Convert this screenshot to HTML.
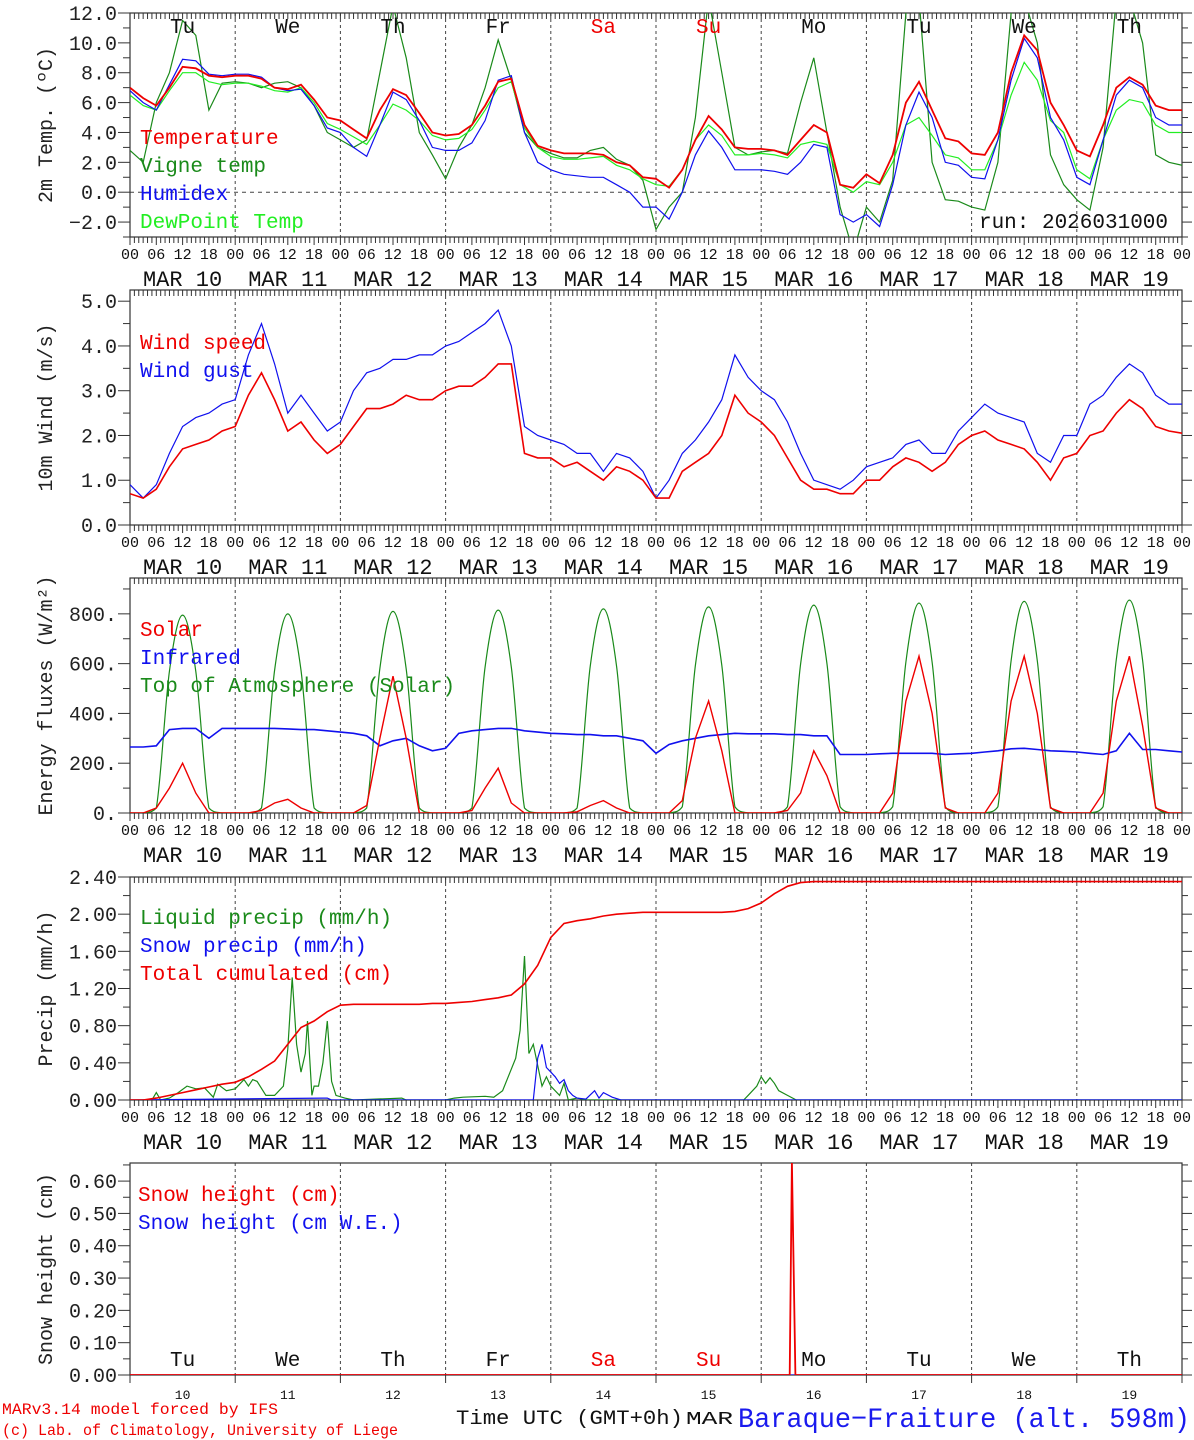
<!DOCTYPE html>
<html><head><meta charset="utf-8"><style>
body{margin:0;background:#fff;}
svg{display:block;font-family:"Liberation Mono",monospace;}
</style></head><body>
<svg id="chart" width="1194" height="1440" viewBox="0 0 1194 1440" xmlns="http://www.w3.org/2000/svg">
  <text x="1168" y="228" text-anchor="end" font-size="21" fill="#111">run: 2026031000</text>
  <text x="2" y="1414" font-size="16" fill="#ee0000" textLength="276" lengthAdjust="spacingAndGlyphs">MARv3.14 model forced by IFS</text>
  <text x="2" y="1435" font-size="16" fill="#ee0000" textLength="396" lengthAdjust="spacingAndGlyphs">(c) Lab. of Climatology, University of Liege</text>
  <text x="456" y="1424" font-size="20" fill="#111" textLength="227" lengthAdjust="spacingAndGlyphs">Time UTC (GMT+0h)</text>
  <text x="686" y="1424" font-size="18" fill="#111" textLength="47" lengthAdjust="spacingAndGlyphs">MAR</text>
  <text x="738" y="1427" font-size="28" fill="#1a1aee" textLength="452" lengthAdjust="spacingAndGlyphs">Baraque−Fraiture (alt. 598m)</text>
</svg>
<script>
// ---------- DATA ----------
const dayNames = ["Tu","We","Th","Fr","Sa","Su","Mo","Tu","We","Th"];
const dayNums = ["10","11","12","13","14","15","16","17","18","19"];
const hourLabels = ["00","06","12","18"];
// 3-hourly series (81 points from MAR 10 00 UTC)
const tempVals = [7,6.3,5.8,7,8.4,8.3,7.8,7.7, 7.8,7.8,7.6,7.0,6.9,7.2,6.2,5.0, 4.8,4.2,3.6,5.5,6.9,6.5,5.3,4.0, 3.8,3.9,4.5,5.8,7.4,7.6,4.5,3.1, 2.8,2.6,2.6,2.6,2.5,2.0,1.8,1.0, 0.9,0.3,1.5,3.5,5.1,4.2,3.0,2.9, 2.9,2.8,2.5,3.5,4.5,4.0,0.5,0.3, 1.2,0.6,2.5,6.0,7.4,5.5,3.6,3.4, 2.6,2.5,4.0,8.0,10.5,9.5,6.0,4.5, 2.8,2.4,4.5,7.0,7.7,7.2,5.8,5.5, 5.5];
const vigneVals = [2.8,2.0,6.0,8.0,11.5,10.5,5.5,7.3, 7.4,7.3,7.0,7.3,7.4,7.0,5.8,4.0, 3.5,3.0,3.5,8.0,12.5,9.0,4.0,2.5, 0.9,3.0,4.5,7.0,10.2,7.5,4.0,3.0, 2.6,2.3,2.3,2.8,3.0,2.2,1.8,0.8, -2.5,-1.0,0.0,5.0,13,8.0,3.0,2.5, 2.7,2.8,2.6,6.0,9.0,4.0,-1.0,-4, -1.0,-2.0,0.8,12,13,2.0,-0.5,-0.6, -1.0,-1.2,2.0,12,13,10,2.5,0.5, -0.5,-1.2,3.0,13,13,10,2.5,2.0, 1.8];
const humidexVals = [6.8,6.0,5.5,7.2,8.9,8.8,7.9,7.8, 7.9,7.9,7.7,7.0,6.8,6.9,5.8,4.3, 4.0,3.0,2.4,4.5,6.7,6.2,4.8,3.0, 2.8,2.8,3.3,4.8,7.5,7.8,4.0,2.0, 1.5,1.2,1.1,1.0,1.0,0.5,0.0,-1.0, -1.0,-1.8,0.0,2.5,4.1,3.0,1.5,1.5, 1.5,1.4,1.2,2.0,3.2,3.0,-1.5,-2.0, -1.5,-2.3,0.5,4.5,6.7,5.0,2.0,1.8, 1.0,0.9,3.5,7.5,10.3,9.0,5.0,3.5, 1.0,0.5,3.5,6.5,7.5,7.0,5.0,4.5, 4.5];
const dewVals = [6.5,5.8,5.5,6.8,8.0,8.0,7.4,7.2, 7.3,7.3,7.1,6.8,6.7,7.0,6.0,4.6, 4.2,3.7,3.2,4.5,5.9,5.5,4.8,3.8, 3.5,3.6,4.2,5.5,7.0,7.4,4.3,3.0, 2.4,2.2,2.2,2.3,2.4,1.8,1.5,0.9, 0.5,0.4,1.5,3.5,4.5,3.8,2.5,2.5, 2.6,2.5,2.3,3.2,3.4,3.2,0.5,0.0, 0.7,0.5,2.0,4.5,5.0,3.8,2.5,2.3, 1.5,1.5,3.5,6.5,8.7,7.5,4.8,4.0, 1.5,0.9,3.5,5.5,6.2,6.0,4.5,4.0, 4.0];
const windVals = [0.7,0.6,0.8,1.3,1.7,1.8,1.9,2.1, 2.2,2.9,3.4,2.8,2.1,2.3,1.9,1.6, 1.8,2.2,2.6,2.6,2.7,2.9,2.8,2.8, 3.0,3.1,3.1,3.3,3.6,3.6,1.6,1.5, 1.5,1.3,1.4,1.2,1.0,1.3,1.2,1.0, 0.6,0.6,1.2,1.4,1.6,2.0,2.9,2.5, 2.3,2.0,1.5,1.0,0.8,0.8,0.7,0.7, 1.0,1.0,1.3,1.5,1.4,1.2,1.4,1.8, 2.0,2.1,1.9,1.8,1.7,1.4,1.0,1.5, 1.6,2.0,2.1,2.5,2.8,2.6,2.2,2.1, 2.05];
const gustVals = [0.9,0.6,0.9,1.6,2.2,2.4,2.5,2.7, 2.8,3.8,4.5,3.6,2.5,2.9,2.5,2.1, 2.3,3.0,3.4,3.5,3.7,3.7,3.8,3.8, 4.0,4.1,4.3,4.5,4.8,4.0,2.2,2.0, 1.9,1.8,1.6,1.6,1.2,1.6,1.5,1.2, 0.6,1.0,1.6,1.9,2.3,2.8,3.8,3.3, 3.0,2.8,2.3,1.6,1.0,0.9,0.8,1.0, 1.3,1.4,1.5,1.8,1.9,1.6,1.6,2.1, 2.4,2.7,2.5,2.4,2.3,1.6,1.4,2.0, 2.0,2.7,2.9,3.3,3.6,3.4,2.9,2.7, 2.7];
const solarVals = [0,0,20,100,200,80,0,0, 0,0,10,40,55,20,0,0, 0,0,30,300,550,300,0,0, 0,0,10,100,180,40,0,0, 0,0,5,30,50,20,0,0, 0,0,50,300,450,250,0,0, 0,0,10,80,250,150,0,0, 0,0,80,450,630,400,20,0, 0,0,80,450,630,400,20,0, 0,0,80,450,630,350,20,0, 0];
const irVals = [265,265,270,335,340,340,300,340, 340,340,340,340,338,335,335,330, 325,320,310,270,290,300,270,250, 260,320,330,335,340,340,330,325, 320,318,315,315,310,310,300,290, 240,275,290,300,310,315,320,318, 318,318,315,315,310,310,235,235, 235,238,240,240,240,240,235,238, 240,245,250,258,260,255,250,248, 245,240,235,250,320,255,255,250, 245];
const toaVals = [0,0,20,570,795,570,20,0, 0,0,20,575,800,575,20,0, 0,0,20,580,810,580,20,0, 0,0,20,585,815,585,20,0, 0,0,20,590,820,590,20,0, 0,0,25,595,828,595,25,0, 0,0,25,600,835,600,25,0, 0,0,25,605,843,605,25,0, 0,0,25,610,850,610,25,0, 0,0,25,615,855,615,25,0, 0];
const cumVals = [0,0,0.02,0.05,0.08,0.11,0.14,0.17, 0.19,0.25,0.33,0.42,0.6,0.78,0.85,0.95, 1.02,1.03,1.03,1.03,1.03,1.03,1.03,1.04, 1.04,1.05,1.06,1.08,1.1,1.13,1.25,1.45, 1.75,1.9,1.93,1.95,1.98,2.0,2.01,2.02, 2.02,2.02,2.02,2.02,2.02,2.02,2.03,2.06, 2.12,2.22,2.3,2.34,2.35,2.35,2.35,2.35, 2.35,2.35,2.35,2.35,2.35,2.35,2.35,2.35, 2.35,2.35,2.35,2.35,2.35,2.35,2.35,2.35, 2.35,2.35,2.35,2.35,2.35,2.35,2.35,2.35, 2.35];
// irregular hourly series (hour offset, value)
const liquidHours = [0,5,6,7,9,11,13,15,17,19,20,22,24,26,27,28,29,31,33,35,36,37,38,39,40,40.5,41.5,42,43,44,45,46,47,49,51,62,63,72,74,76,81,83,85,88,89,90,91,92,94,95,96,98,99,100,102,104,140,141,143,144,145,146,147,148,150,152,240];
const liquidVals = [0,0,0.08,0,0.02,0.08,0.15,0.12,0.13,0.03,0.17,0.1,0.12,0.22,0.15,0.22,0.2,0.05,0.05,0.15,0.55,1.32,0.6,0.3,0.5,0.85,0.05,0.15,0.15,0.4,0.85,0.2,0.05,0.02,0,0.02,0,0,0.02,0.03,0.04,0.03,0.1,0.45,0.75,1.55,0.5,0.6,0.15,0.25,0.15,0.05,0.18,0,0.02,0,0,0.05,0.15,0.25,0.18,0.24,0.18,0.1,0.05,0,0];
const snowPHours = [0,44,45,46,92,93,94,95,96,97,98,99,100,101,102,104,106,107,108,110,112,240];
const snowPVals = [0,0.02,0.02,0,0,0.45,0.6,0.35,0.3,0.25,0.18,0.22,0.1,0.05,0.02,0.01,0.1,0.02,0.08,0.03,0,0];
const snowHHours = [0,150.5,151,151.8,240];
const snowHVals = [0,0,0.66,0,0];
const snowWEVals = [0,0,0,0,0];

// ---------- DRAWING ----------
const svg = document.getElementById('chart');
const NS = 'http://www.w3.org/2000/svg';
const X0 = 130, X1 = 1182;
function xs(h){ return X0 + h/240*(X1-X0); }
function mk(tag, attrs, parent){ const e=document.createElementNS(NS,tag); for(const k in attrs) e.setAttribute(k,attrs[k]); (parent||svg).appendChild(e); return e; }
function txt(s, attrs, parent){ const e=mk('text',attrs,parent); e.textContent=s; return e; }

const panels = [
 {name:'temperature', top:13, bot:237, min:-3, max:12, ticks:[-2,0,2,4,6,8,10,12], minor:1, fmt:v=>v.toFixed(1).replace('-','\u2212'), title:'2m Temp. (\u00BAC)', zero:true},
 {name:'wind', top:290, bot:525, min:0, max:5.25, ticks:[0,1,2,3,4,5], minor:0.5, fmt:v=>v.toFixed(1), title:'10m Wind (m/s)'},
 {name:'energy', top:578, bot:813, min:0, max:944, ticks:[0,200,400,600,800], minor:100, fmt:v=>v+'.', title:'Energy fluxes (W/m\u00B2)'},
 {name:'precip', top:877, bot:1100, min:0, max:2.4, ticks:[0,0.4,0.8,1.2,1.6,2.0,2.4], minor:0.2, fmt:v=>v.toFixed(2), title:'Precip (mm/h)'},
 {name:'snow', top:1163, bot:1375, min:0, max:0.656, ticks:[0,0.1,0.2,0.3,0.4,0.5,0.6], minor:0.05, fmt:v=>v.toFixed(2), title:'Snow height (cm)', last:true}
];
panels.forEach((p,pi)=>{
  p.ys = v => p.bot - (v-p.min)/(p.max-p.min)*(p.bot-p.top);
  const g = mk('g',{});  
  const cp = mk('clipPath',{id:'clip'+pi},g); mk('rect',{x:X0,y:p.top,width:X1-X0,height:p.bot-p.top},cp);
  for(let d=1; d<10; d++) mk('line',{x1:xs(d*24),x2:xs(d*24),y1:p.top,y2:p.bot,stroke:'#444','stroke-width':1,'stroke-dasharray':'3,3'},g);
  if(p.zero) mk('line',{x1:X0,x2:X1,y1:p.ys(0),y2:p.ys(0),stroke:'#444','stroke-dasharray':'4,4'},g);
  mk('rect',{x:X0,y:p.top,width:X1-X0,height:p.bot-p.top,fill:'none',stroke:'#333','stroke-width':1.2},g);
  for(let v=p.min; v<=p.max+1e-9; v+=p.minor){
    const major = p.ticks.some(t=>Math.abs(t-v)<1e-6);
    const y=p.ys(v);
    mk('line',{x1:X0-(major?12:7),x2:X0,y1:y,y2:y,stroke:'#333'},g);
    mk('line',{x1:X1,x2:X1+(major?10:6),y1:y,y2:y,stroke:'#333'},g);
  }
  p.ticks.forEach(t=>{ const e=txt(p.fmt(t),{x:117,y:p.ys(t)+7,'text-anchor':'end','font-size':20,fill:'#222'},g);
      });
  const yt = txt(p.title,{x:0,y:0,'font-size':20,fill:'#222','text-anchor':'middle',transform:`translate(52,${(p.top+p.bot)/2}) rotate(-90)`},g);
   
  if(!p.last){
    for(let h=0; h<=240; h++){
      const x=xs(h);
      mk('line',{x1:x,x2:x,y1:p.top,y2:p.top+6,stroke:'#333'},g);
      mk('line',{x1:x,x2:x,y1:p.bot,y2:p.bot+(h%6==0?8:6),stroke:'#333'},g);
    }
    for(let h=0; h<=240; h+=6){
      const e=txt(hourLabels[(h/6)%4],{x:xs(h),y:p.bot+22,'text-anchor':'middle','font-size':15,fill:'#111'},g);
       
    }
    dayNums.forEach((n,i)=>{ const e=txt('MAR '+n,{x:xs(i*24+12),y:p.bot+49,'text-anchor':'middle','font-size':22,fill:'#111'},g);
        });
  } else {
    for(let d=0; d<=10; d++) mk('line',{x1:xs(d*24),x2:xs(d*24),y1:p.bot,y2:p.bot+8,stroke:'#333'},g);
    dayNums.forEach((n,i)=>{ const e=txt(n,{x:xs(i*24+12),y:p.bot+24,'text-anchor':'middle','font-size':13,fill:'#111'},g);
        });
  }
  p.g=g;
});
function series(p, hours, vals, color, name, w){
  let d='';
  vals.forEach((v,i)=>{ d += (i?'L':'M') + xs(hours[i]).toFixed(1)+','+p.ys(v).toFixed(1); });
  const e = mk('path',{d:d,fill:'none',stroke:color,'stroke-width':w||1.2,'clip-path':'url(#clip'+panels.indexOf(p)+')'},p.g);
  
  
}
function smoothSeries(p, hours, vals, color, name){
  const pts = vals.map((v,i)=>[xs(hours[i]), p.ys(v)]);
  let d='M'+pts[0][0]+','+pts[0][1];
  for(let i=0;i<pts.length-1;i++){
    const p0=pts[Math.max(0,i-1)],p1=pts[i],p2=pts[i+1],p3=pts[Math.min(pts.length-1,i+2)];
    let c1y=p1[1]+(p2[1]-p0[1])/6, c2y=p2[1]-(p3[1]-p1[1])/6;
    const yb=p.ys(0); c1y=Math.min(c1y,yb); c2y=Math.min(c2y,yb);
    d+=`C${p1[0]+(p2[0]-p0[0])/6},${c1y} ${p2[0]-(p3[0]-p1[0])/6},${c2y} ${p2[0]},${p2[1]}`;
  }
  const e = mk('path',{d:d,fill:'none',stroke:color,'stroke-width':1.2,'clip-path':'url(#clip'+panels.indexOf(p)+')'},p.g);
  
  
}
const H3 = tempVals.map((_,i)=>i*3);
const [P1,P2,P3,P4,P5] = panels;
series(P1,H3,vigneVals,'#1a8a1a','vigne-temp-line');
series(P1,H3,dewVals,'#22ee22','dewpoint-line');
series(P1,H3,humidexVals,'#1010ee','humidex-line');
series(P1,H3,tempVals,'#ee0000','temperature-line',1.8);
series(P2,H3,gustVals,'#1010ee','wind-gust-line');
series(P2,H3,windVals,'#ee0000','wind-speed-line',1.6);
smoothSeries(P3,H3,toaVals,'#1a8a1a','toa-solar-line');
series(P3,H3,irVals,'#1010ee','infrared-line',1.6);
series(P3,H3,solarVals,'#ee0000','solar-line',1.4);
series(P4,liquidHours,liquidVals,'#1a8a1a','liquid-precip-line');
series(P4,snowPHours,snowPVals,'#1010ee','snow-precip-line');
series(P4,H3,cumVals,'#ee0000','cumulated-precip-line',1.6);
series(P5,snowHHours,snowWEVals,'#1010ee','snow-we-line');
series(P5,snowHHours,snowHVals,'#ee0000','snow-height-line',1.8);

dayNames.forEach((n,i)=>{
  const red = (n==='Sa'||n==='Su');
  const a=txt(n,{x:xs(i*24+12),y:33,'text-anchor':'middle','font-size':21,fill:red?'#ee0000':'#111'});
   
  const b=txt(n,{x:xs(i*24+12),y:1366,'text-anchor':'middle','font-size':21,fill:red?'#ee0000':'#111'});
   
});
function legend(items, x, y0, dy){
  items.forEach((it,i)=>{ const e=txt(it[0],{x:x,y:y0+i*dy,'font-size':21,fill:it[1]});
      });
}
legend([['Temperature','#ee0000'],['Vigne temp','#1a8a1a'],['Humidex','#1010ee'],['DewPoint Temp','#22ee22']],140,144,28);
legend([['Wind speed','#ee0000'],['Wind gust','#1010ee']],140,349,28);
legend([['Solar','#ee0000'],['Infrared','#1010ee'],['Top of Atmosphere (Solar)','#1a8a1a']],140,636,28);
legend([['Liquid precip (mm/h)','#1a8a1a'],['Snow precip (mm/h)','#1010ee'],['Total cumulated (cm)','#ee0000']],140,924,28);
legend([['Snow height (cm)','#ee0000'],['Snow height (cm W.E.)','#1010ee']],138,1201,28);
</script>
</body></html>
